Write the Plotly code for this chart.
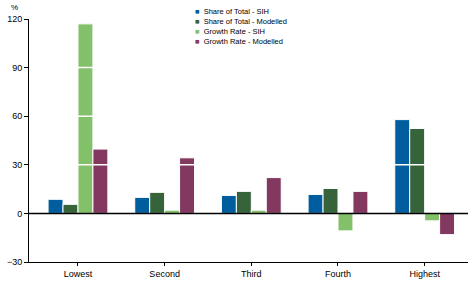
import plotly.graph_objects as go

quintiles = ["Lowest", "Second", "Third", "Fourth", "Highest"]

share_sih = [8.7, 9.9, 11.1, 11.7, 57.9]
share_modelled = [5.6, 13.0, 13.6, 15.4, 52.4]
growth_sih = [117.0, 2.0, 2.0, -10.8, -4.6]
growth_modelled = [39.7, 34.3, 22.1, 13.6, -13.1]

series_names = ["Share of Total - SIH", "Share of Total - Modelled",
                "Growth Rate - SIH", "Growth Rate - Modelled"]
series_values = [share_sih, share_modelled, growth_sih, growth_modelled]
colours = ["#005E9E", "#366339", "#82C06A", "#82385F"]

y_ticks = [-30, 0, 30, 60, 90, 120]

font = "Liberation Sans, Arial, sans-serif"

fig = go.Figure()
for name, vals, col in zip(series_names, series_values, colours):
    fig.add_trace(go.Bar(
        x=quintiles, y=vals, name=name,
        marker=dict(color=col, line=dict(color="white", width=1)),
    ))

# white gridlines drawn over the bars
for t in y_ticks[2:-1]:
    fig.add_shape(type="line", xref="paper", x0=0, x1=1, yref="y", y0=t, y1=t,
                  line=dict(color="white", width=1.5), layer="above")
# zero line kept on top so bar outlines don't break it
fig.add_shape(type="line", xref="paper", x0=0, x1=1, yref="y", y0=0, y1=0,
              line=dict(color="black", width=1.5), layer="above")

# legend written as text, tighter than plotly's own legend
for i, (name, col) in enumerate(zip(series_names, colours)):
    fig.add_annotation(
        xref="paper", yref="paper", x=0.374, y=1.03 - i * 0.0408,
        xanchor="left", yanchor="middle", showarrow=False,
        text=f"<span style='color:{col}'>■</span>&nbsp; {name}",
        font=dict(size=7.5, color="black", family=font),
    )

fig.add_annotation(xref="paper", yref="paper", x=-0.032, y=1.049,
                   xanchor="center", yanchor="middle", showarrow=False,
                   text="%", font=dict(size=8, color="black", family=font))

fig.update_layout(
    width=472, height=283,
    margin=dict(l=29, r=4, t=19, b=19),
    paper_bgcolor="white", plot_bgcolor="white",
    showlegend=False,
    barmode="group", bargap=0.31, bargroupgap=0,
    font=dict(family=font, size=9, color="black"),
    xaxis=dict(range=[-0.565, 4.5], showline=True, linecolor="black",
               linewidth=1, ticks="outside", ticklen=3, tickcolor="black",
               showgrid=False, tickfont=dict(size=9)),
    yaxis=dict(range=[-30, 120], tickvals=y_ticks, showline=True,
               linecolor="black", linewidth=1, ticks="outside", ticklen=4,
               tickcolor="black", showgrid=False, zeroline=False,
               tickfont=dict(size=9)),
)

fig.write_html("out.html", config={"displayModeBar": False},
               post_script="document.body.style.margin='0';")
